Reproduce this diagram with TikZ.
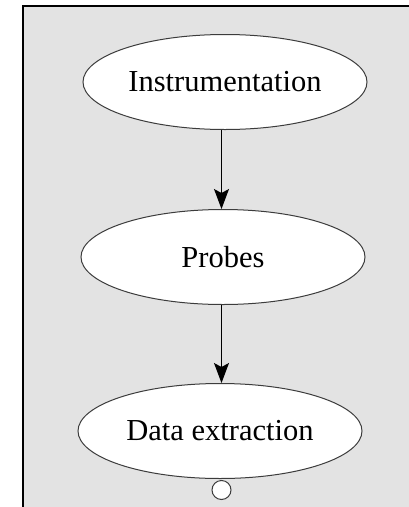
\documentclass[tikz,border=0pt]{standalone}
\usepackage{fontspec}
\setmainfont{Liberation Serif}
\usetikzlibrary{shapes.geometric,arrows.meta}
\definecolor{panel}{RGB}{227,227,227}
\definecolor{rim}{RGB}{60,60,60}
\begin{document}
\begin{tikzpicture}[x=1pt,y=-1pt,
  stage/.style={ellipse, draw=rim, line width=1pt, fill=white,
    minimum width=284pt, minimum height=95pt, inner sep=0pt,
    font=\fontsize{30.5}{36}\selectfont},
  flow/.style={draw=black, line width=1pt,
    -{Stealth[length=20pt,width=15pt,inset=4pt]}},
  sink/.style={circle, draw=rim, line width=1pt, fill=white,
    minimum size=19pt, inner sep=0pt}]
  % canvas and panel
  \useasboundingbox (0,0) rectangle (409,507);
  \fill[panel] (23,6) rectangle (409,507);
  \draw[line width=1.2pt] (23,507) -- (23,6) -- (409,6);
  % pipeline stages
  \node[stage] (instr) at (225,82) {Instrumentation};
  \node[stage] (probes) at (223,257) {Probes};
  \node[stage] (extract) at (220,431) {Data extraction};
  \node[sink] (out) at (221.5,490) {};
  % connectors, kept vertical on the axis of the outlet
  \draw[flow] (instr.south -| out) -- (probes.north -| out);
  \draw[flow] (probes.south -| out) -- (extract.north -| out);
\end{tikzpicture}
\end{document}
